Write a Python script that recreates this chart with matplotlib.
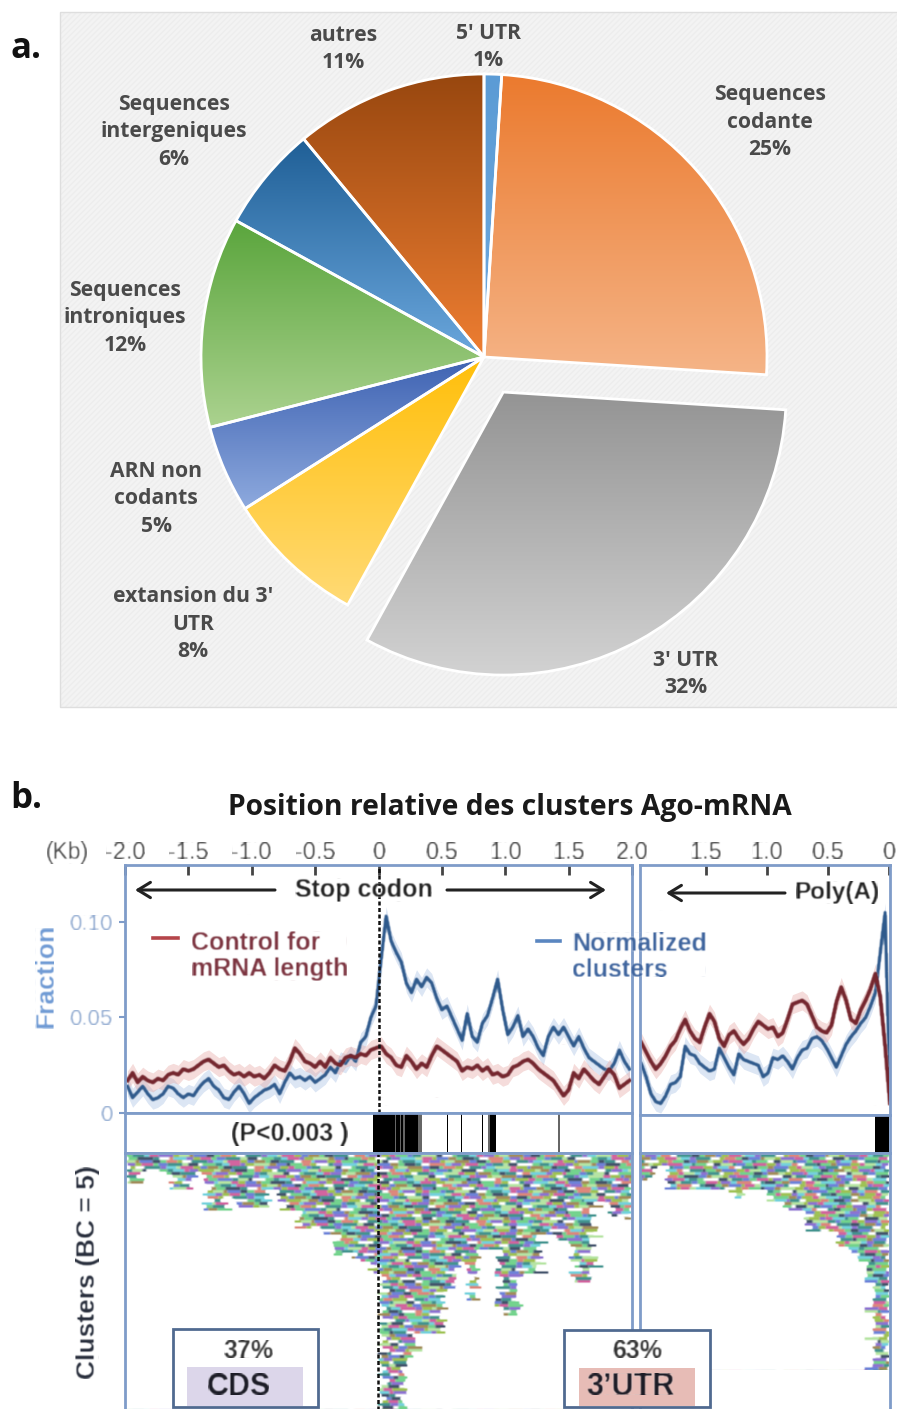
import numpy as np
import matplotlib
matplotlib.use("Agg")
import matplotlib.pyplot as plt
from matplotlib.colors import to_rgb, ListedColormap
from matplotlib.collections import LineCollection
from matplotlib.patches import Rectangle

W, H = 897, 1409

# --- PIE DATA ---
pie_values = [1, 25, 32, 8, 5, 12, 6, 11]
pie_top_colors = ["#5b9bd5", "#eb7a2e", "#949494", "#ffbf0a", "#3e62b2", "#5aa53c", "#1f5f96", "#98470f"]
pie_bottom_colors = ["#6fa9de", "#f5b487", "#d2d2d2", "#ffda75", "#8eaade", "#abd28f", "#6ba7dd", "#ee7e32"]
pie_labels = ["5' UTR\n1%", "Sequences\ncodante\n25%", "3' UTR\n32%", "extansion du 3'\nUTR\n8%",
              "ARN non\ncodants\n5%", "Sequences\nintroniques\n12%", "Sequences\nintergeniques\n6%", "autres\n11%"]
pie_label_xy = [(488, 47), (770, 122), (686, 674), (193, 624), (156, 499), (125, 318), (174, 132), (343, 49)]

# --- STOP CODON PANEL (one value every 0.04 kb from -1.98) ---
stop_ticks = [-2.0, -1.5, -1.0, -0.5, 0, 0.5, 1.0, 1.5, 2.0]
stop_ticklabels = ["-2.0", "-1.5", "-1.0", "-0.5", "0", "0.5", "1.0", "1.5", "2.0"]
blue_stop = [.014, .008, .011, .014, .010, .007, .008, .010, .014, .013,
             .010, .008, .010, .009, .013, .016, .018, .014, .012, .008,
             .007, .011, .014, .010, .005, .008, .010, .012, .013, .015,
             .010, .016, .021, .018, .019, .017, .019, .016, .018, .020,
             .024, .021, .027, .026, .030, .027, .037, .040, .050, .056,
             .080, .103, .090, .084, .079, .068, .063, .070, .066, .071,
             .068, .060, .054, .056, .050, .044, .038, .052, .040, .037,
             .047, .051, .060, .070, .054, .041, .045, .051, .040, .044,
             .040, .034, .030, .040, .045, .041, .045, .040, .035, .040,
             .034, .029, .027, .025, .023, .022, .026, .033, .027, .023]
red_stop = [.017, .021, .016, .019, .017, .016, .018, .017, .020, .021,
            .020, .023, .022, .023, .025, .027, .028, .026, .024, .025,
            .022, .020, .021, .019, .021, .019, .020, .018, .021, .025,
            .023, .022, .027, .034, .031, .027, .026, .024, .027, .024,
            .029, .026, .025, .029, .030, .029, .031, .030, .033, .034,
            .035, .031, .029, .025, .024, .030, .027, .023, .026, .024,
            .030, .035, .033, .031, .029, .027, .022, .024, .023, .025,
            .022, .024, .020, .021, .019, .020, .024, .025, .027, .028,
            .026, .023, .021, .019, .017, .013, .009, .012, .021, .018,
            .023, .020, .017, .015, .019, .023, .020, .013, .015, .017]

# --- POLY(A) PANEL (one value every 0.04 kb from 2.03 down) ---
polya_ticks = [1.5, 1.0, 0.5, 0]
polya_ticklabels = ["1.5", "1.0", "0.5", "0"]
blue_polya = [.027, .020, .011, .007, .006, .010, .016, .017, .020, .036,
              .032, .031, .027, .025, .023, .024, .035, .030, .025, .021,
              .032, .029, .028, .027, .026, .020, .022, .030, .029, .031,
              .028, .024, .030, .034, .035, .040, .041, .039, .035, .030,
              .025, .031, .037, .041, .044, .048, .051, .057, .064, .085, .106, .008]
red_polya = [.038, .033, .028, .024, .027, .031, .036, .039, .045, .050,
             .044, .040, .038, .046, .053, .049, .040, .036, .042, .044,
             .040, .037, .040, .045, .049, .047, .045, .046, .041, .043,
             .050, .058, .059, .060, .058, .052, .046, .044, .043, .047,
             .059, .067, .060, .050, .048, .055, .060, .066, .074, .062, .036, .006]

# --- P VALUE STRIPS (start, end in kb) ---
sig_stop = [(-0.04, 0.13), (0.14, 0.17), (0.185, 0.20), (0.21, 0.315), (0.54, 0.55), (0.65, 0.66), (0.82, 0.83), (0.885, 0.93)]
sig_stop_grey = [(0.13, 0.14), (0.17, 0.185), (0.20, 0.21), (0.315, 0.35), (0.87, 0.885), (1.42, 1.43)]
sig_polya = [(0.115, 0.0)]

# --- CLUSTER OUTLINES: depth in px below the strip between kb edges ---
stop_edges = [-1.98, -1.91, -1.67, -1.49, -1.39, -1.26, -1.15, -0.92, -0.81, -0.67, -0.45, -0.39, -0.31, -0.22, -0.11,
              -0.01, 0.17, 0.26, 0.48, 0.60, 0.68, 0.76, 0.91, 1.07, 1.24, 1.38, 1.50, 1.66, 1.78, 1.86, 1.96, 2.0]
stop_depths = [32, 18, 38, 20, 58, 47, 55, 37, 57, 77, 83, 103, 100, 110, 120, 256, 205, 180, 137, 110, 147, 97, 163,
               122, 83, 87, 130, 50, 63, 67, 27]
polya_edges = [0.0, 0.10, 0.16, 0.26, 0.38, 0.59, 0.67, 0.81, 0.95, 1.14, 1.22, 1.66, 1.79, 1.90, 2.04]
polya_depths = [217, 127, 102, 93, 78, 73, 57, 50, 37, 45, 38, 37, 12, 27]

# colour texture for the clusters, read as a repeating pattern
cluster_colors = ["#6fd28a", "#8a6fd0", "#d0609c", "#3f918c", "#a08a58", "#3f5068", "#9cc050", "#70d0dc", "#6a80d8",
                  "#dc8478", "#b4e4a0", "#ffffff"]
cluster_pattern = [0, 3, 7, 2, 1, 6, 10, 4, 8, 5, 0, 9, 6, 11, 3, 1, 7, 10, 2, 6, 8, 4, 0, 5, 3, 11, 9, 7, 1, 6, 2, 0, 8, 3, 10, 5, 11]
cluster_widths = [0.05, 0.09, 0.04, 0.07, 0.12, 0.05, 0.08, 0.03, 0.10, 0.06]

BOX = "#7f9cc9"
BLUE = "#2f5a8c"
RED = "#74262e"


def gradient_wedge(ax, wedge, top, bottom):
    xy = wedge.get_patch_transform().transform(wedge.get_path().vertices)
    x0, y0 = xy.min(axis=0)
    x1, y1 = xy.max(axis=0)
    cmap = ListedColormap(np.linspace(to_rgb(top), to_rgb(bottom), 256))
    im = ax.imshow(np.linspace(0, 1, 256).reshape(-1, 1), cmap=cmap, extent=(x0, x1, y0, y1),
                   origin="upper", aspect="auto", zorder=1)
    im.set_clip_path(wedge)


def soften(img, dpi):
    # the figure b is a blurry scan
    out = img.copy()
    for axis in (0, 1):
        out = (np.roll(out, 1, axis) + 2 * out + np.roll(out, -1, axis)) / 4
    return out, 0, 0


def draw_clusters(ax, edges, depths):
    edges = np.array(edges)
    segs, cols = [], []
    n = 0
    for row in range(0, 86):
        y = 2 + row * 3.0
        x = edges[0] + cluster_widths[row % len(cluster_widths)] * 0.5 - 0.03
        col = 0
        while x < edges[-1]:
            w = cluster_widths[(row * 3 + col) % len(cluster_widths)]
            k = min(max(np.searchsorted(edges, x) - 1, 0), len(depths) - 1)
            if depths[k] > y:
                segs.append([(x, y), (min(x + w, edges[-1]), y)])
                cols.append(cluster_colors[cluster_pattern[n % len(cluster_pattern)]])
            n += 1
            col += 1
            x += w
    lc = LineCollection(segs, colors=cols, linewidths=2.1, capstyle="butt")
    lc.set_agg_filter(soften)
    ax.add_collection(lc)


def style_box(ax):
    for s in ax.spines.values():
        s.set_color(BOX)
        s.set_linewidth(2)


plt.rcParams["font.family"] = ["Liberation Sans", "DejaVu Sans"]
fig = plt.figure(figsize=(W / 100, H / 100), dpi=100, facecolor="white")

# --- a. PIE ---
ax_pie = fig.add_axes([0, 0, 1, 1])
ax_pie.add_patch(Rectangle((60, H - 707), 840, 695, facecolor="#f3f3f3", edgecolor="#ededed", hatch="//////", lw=0, zorder=0))
ax_pie.add_patch(Rectangle((60, H - 707), 840, 695, facecolor="none", edgecolor="#dedede", lw=1, zorder=0))
# 3' UTR slice pulled out by about 40 px
pie_explode = [0, 0, 40, 0, 0, 0, 0, 0]
wedges, _ = ax_pie.pie(pie_values, explode=pie_explode, startangle=90, counterclock=False, radius=283,
                       center=(484, H - 357), wedgeprops={"facecolor": "none", "edgecolor": "white", "linewidth": 2, "zorder": 2})
for wd, top, bottom in zip(wedges, pie_top_colors, pie_bottom_colors):
    gradient_wedge(ax_pie, wd, top, bottom)
ax_pie.set_xlim(0, W)
ax_pie.set_ylim(0, H)
ax_pie.set_aspect("auto")
ax_pie.axis("off")
for lab, (lx, ly) in zip(pie_labels, pie_label_xy):
    ax_pie.text(lx, H - ly, lab, ha="center", va="center", fontsize=15.2, family="Open Sans", weight="bold",
                color="#4a4a4a", linespacing=1.42, zorder=5)


# --- b. CURVES ---
def px_axes(left, top, right, bottom):
    return fig.add_axes([left / W, 1 - bottom / H, (right - left) / W, (bottom - top) / H])


for_stop = px_axes(125, 865, 632, 1113)
for_stop.set_xlim(-1.992, 2.0)
for_stop.set_ylim(0, 0.1298)
for_polya = px_axes(640, 865, 890, 1115)
for_polya.set_xlim(2.04, -0.01)
for_polya.set_ylim(0, 0.1309)

stop_kb = np.linspace(-1.98, 1.98, len(blue_stop))
polya_kb = np.linspace(2.03, -0.01, len(blue_polya))
for ax, xs, bf, rf in [(for_stop, stop_kb, blue_stop, red_stop), (for_polya, polya_kb, blue_polya, red_polya)]:
    ax.fill_between(xs, np.array(bf) - 0.005, np.array(bf) + 0.005, color="#9db8e0", alpha=0.35, lw=0)
    ax.fill_between(xs, np.array(rf) - 0.005, np.array(rf) + 0.005, color="#e7a9a5", alpha=0.4, lw=0)
    l1, = ax.plot(xs, bf, color=BLUE, lw=2.6)
    l2, = ax.plot(xs, rf, color=RED, lw=3)
    l1.set_agg_filter(soften)
    l2.set_agg_filter(soften)
    style_box(ax)

for_stop.axvline(0, color="#111111", lw=1.8, ls=(0, (1.6, 1)))
for_stop.set_xticks(stop_ticks, stop_ticklabels)
for_stop.xaxis.tick_top()
for_stop.tick_params(axis="x", direction="in", length=7, width=2, color="#444444", labelsize=17, labelcolor="#444444", pad=1)
for_stop.set_yticks([0, 0.05, 0.10], ["0", "0.05", "0.10"])
for_stop.tick_params(axis="y", length=4, width=1.5, color=BOX, labelsize=16, labelcolor="#8fa9d0", pad=5)
for_polya.set_xticks(polya_ticks, polya_ticklabels)
for_polya.xaxis.tick_top()
for_polya.tick_params(axis="x", direction="in", length=7, width=2, color="#444444", labelsize=17, labelcolor="#444444", pad=1)
for_polya.set_yticks([])
for lab in for_stop.get_xticklabels() + for_stop.get_yticklabels() + for_polya.get_xticklabels():
    lab.set_agg_filter(soften)

# --- b. P VALUE STRIPS ---
strip_stop = px_axes(125, 1113, 632, 1153)
strip_stop.set_xlim(-1.992, 2.0)
strip_stop.set_ylim(0, 1)
strip_polya = px_axes(640, 1115, 890, 1153)
strip_polya.set_xlim(2.04, -0.01)
strip_polya.set_ylim(0, 1)
for a, b in sig_stop:
    strip_stop.axvspan(a, b, color="black", lw=0)
for a, b in sig_stop_grey:
    strip_stop.axvspan(a, b, color="#666666", lw=0)
for a, b in sig_polya:
    strip_polya.axvspan(a, b, color="black", lw=0)
for ax in (strip_stop, strip_polya):
    ax.set_xticks([])
    ax.set_yticks([])
    style_box(ax)

# --- b. CLUSTERS ---
clu_stop = px_axes(125, 1153, 632, H + 4)
clu_stop.set_xlim(-1.992, 2.0)
clu_stop.set_ylim(260, 0)
clu_polya = px_axes(640, 1153, 890, H + 4)
clu_polya.set_xlim(-0.01, 2.04)
clu_polya.invert_xaxis()
clu_polya.set_ylim(260, 0)
draw_clusters(clu_stop, stop_edges, stop_depths)
draw_clusters(clu_polya, polya_edges, polya_depths)
clu_stop.axvline(0, color="#111111", lw=1.8, ls=(0, (1.6, 1)))
for ax in (clu_stop, clu_polya):
    ax.set_xticks([])
    ax.set_yticks([])
    style_box(ax)

# --- OVERLAY IN PIXELS ---
ov = fig.add_axes([0, 0, 1, 1], zorder=20)
ov.set_xlim(0, W)
ov.set_ylim(H, 0)
ov.axis("off")
scan_texts = []
ov.text(10, 49, "a.", fontsize=25, weight="bold", family="Open Sans", color="#111111", va="center")
ov.text(10, 799, "b.", fontsize=25, weight="bold", family="Open Sans", color="#111111", va="center")
ov.text(510, 808, "Position relative des clusters Ago-mRNA", fontsize=20.3, weight="bold", family="Open Sans",
        color="#1a1a1a", ha="center", va="center")
scan_texts.append(ov.text(67, 852, "(Kb)", fontsize=16.5, color="#444444", ha="center", va="center"))
scan_texts.append(ov.text(46, 976, "Fraction", fontsize=19, weight="bold", color="#6f9ad4", rotation=90, ha="center", va="center"))
scan_texts.append(ov.text(88, 1272, "Clusters (BC = 5)", fontsize=19, weight="bold", color="#262c3a", rotation=90, ha="center", va="center"))
scan_texts.append(ov.text(364, 890, "Stop codon", fontsize=18, weight="bold", color="#222222", ha="center", va="center"))
scan_texts.append(ov.text(837, 893, "Poly(A)", fontsize=17.5, weight="bold", color="#222222", ha="center", va="center"))
scan_texts.append(ov.text(290, 1134, "(P<0.003 )", fontsize=18, weight="bold", color="#222222", ha="center", va="center"))
scan_texts.append(ov.text(191, 956, "Control for\nmRNA length", fontsize=18, weight="bold", color="#7c3440", va="center", linespacing=1.15))
scan_texts.append(ov.text(572, 957, "Normalized\nclusters", fontsize=18, weight="bold", color="#3f659e", va="center", linespacing=1.15))
ov.plot([153, 178], [938, 938], color="#b5454a", lw=2.6)
ov.plot([537, 560], [941, 941], color="#5a86c0", lw=2.6)
for x0, x1, yy in [(275, 135, 890), (447, 606, 890), (785, 666, 893)]:
    ov.annotate("", xy=(x1, yy), xytext=(x0, yy),
                arrowprops=dict(arrowstyle="->,head_length=0.9,head_width=0.55", color="#222222", lw=2.2, shrinkA=0, shrinkB=0))

# percentage boxes
ov.add_patch(Rectangle((173, 1329), 145, 78, facecolor="white", edgecolor="#506a90", lw=2))
ov.add_patch(Rectangle((187, 1367), 116, 39, facecolor="#dcd6ea", edgecolor="none"))
scan_texts.append(ov.text(249, 1351, "37%", fontsize=18, weight="bold", color="#333333", ha="center", va="center"))
scan_texts.append(ov.text(239, 1387, "CDS", fontsize=22, weight="bold", color="#1c1c26", ha="center", va="center"))
ov.add_patch(Rectangle((564, 1330), 146, 77, facecolor="white", edgecolor="#506a90", lw=2))
ov.add_patch(Rectangle((579, 1368), 116, 38, facecolor="#e7bcb6", edgecolor="none"))
scan_texts.append(ov.text(637, 1351, "63%", fontsize=18, weight="bold", color="#333333", ha="center", va="center"))
scan_texts.append(ov.text(630, 1387, "3’UTR", fontsize=22, weight="bold", color="#1c1c26", ha="center", va="center"))
for t in scan_texts:
    t.set_agg_filter(soften)

fig.savefig("out.png", dpi=100)
